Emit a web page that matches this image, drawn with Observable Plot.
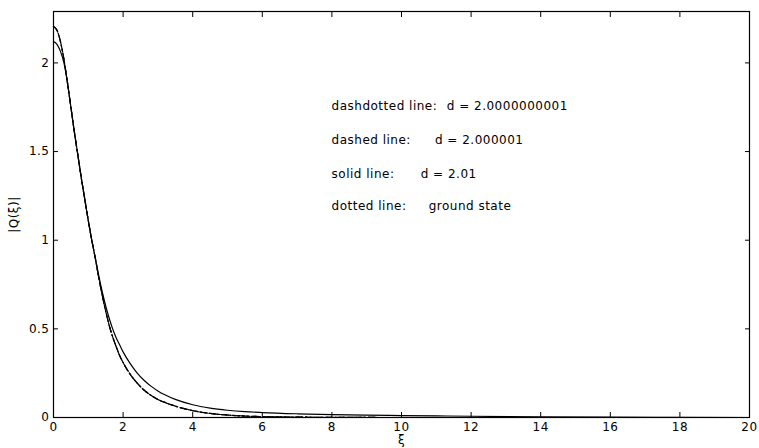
<!DOCTYPE html>
<html>
<head>
<meta charset="utf-8">
<script src="https://cdn.jsdelivr.net/npm/d3@7"></script>
<script src="https://cdn.jsdelivr.net/npm/@observablehq/plot@0.6"></script>
<style>
  body { margin: 0; background: #fff; }
  #chart svg { display: block; }
</style>
</head>
<body>
<div id="chart"></div>
<script>
// Ground-state profile |Q(xi)| (also followed, at this scale, by d = 2.000001 and d = 2.0000000001)
const xiGround = [0, 0.1, 0.2, 0.3, 0.4, 0.5, 0.6, 0.7, 0.8, 0.9, 1.0, 1.1, 1.2, 1.3, 1.4, 1.5, 1.6, 1.7, 1.8, 1.9, 2.0, 2.2, 2.4, 2.6, 2.8, 3.0, 3.2, 3.5, 4.0, 4.5, 5.0, 5.5, 6.0, 7.0, 8.0, 10, 12, 14, 16, 18, 20];
const qGround  = [2.205, 2.184, 2.12, 2.02, 1.89, 1.75, 1.61, 1.48, 1.35, 1.23, 1.11, 1.0, 0.90, 0.79, 0.69, 0.60, 0.52, 0.455, 0.40, 0.35, 0.31, 0.245, 0.195, 0.155, 0.125, 0.102, 0.085, 0.064, 0.039, 0.023, 0.014, 0.008, 0.005, 0.002, 0.001, 0, 0, 0, 0, 0, 0];
const qDashed = qGround;       // d = 2.000001
const qDashdotted = qGround;   // d = 2.0000000001

// Profile for d = 2.01 (solid line), with its slowly decaying tail
const xiSolid = [0, 0.1, 0.2, 0.3, 0.4, 0.5, 0.6, 0.7, 0.8, 0.9, 1.0, 1.1, 1.2, 1.3, 1.4, 1.5, 1.6, 1.7, 1.8, 1.9, 2.0, 2.2, 2.4, 2.6, 2.8, 3.0, 3.2, 3.5, 4.0, 4.5, 5.0, 5.5, 6.0, 7.0, 8.0, 9, 10, 11, 12, 14, 16, 18, 20];
const qSolid  = [2.12, 2.105, 2.065, 2.0, 1.89, 1.75, 1.61, 1.48, 1.35, 1.23, 1.11, 1.0, 0.90, 0.80, 0.71, 0.63, 0.56, 0.50, 0.45, 0.41, 0.37, 0.305, 0.252, 0.21, 0.177, 0.15, 0.128, 0.102, 0.072, 0.053, 0.041, 0.033, 0.028, 0.021, 0.016, 0.013, 0.011, 0.009, 0.007, 0.004, 0.002, 0.001, 0];

const xTicks = [0, 2, 4, 6, 8, 10, 12, 14, 16, 18, 20];
const yTicks = [0, 0.5, 1, 1.5, 2];

const keyNames  = ["dashdotted line:", "dashed line:", "solid line:", "dotted line:"];
const keyValues = ["d = 2.0000000001", "d = 2.000001", "d = 2.01", "ground state"];

const rows = (xs, ys) => xs.map((x, i) => ({xi: x, q: ys[i]}));

// key layout in data units (xi, |Q|)
const keyRowY   = [1.754, 1.567, 1.37, 1.19];
const keyNameX  = 7.99;
const keyValueX = [11.3, 10.96, 10.55, 10.78];

const lineStyle = {x: "xi", y: "q", stroke: "#000", strokeWidth: 1.2, curve: "monotone-x"};

const chart = Plot.plot({
  width: 759,
  height: 448,
  marginLeft: 53,
  marginRight: 10,
  marginTop: 11,
  marginBottom: 31,
  style: {fontFamily: "'DejaVu Sans', sans-serif", fontSize: "12px", color: "#000", background: "#fff"},
  x: {domain: [0, 20]},
  y: {domain: [0, 2.29]},
  marks: [
    Plot.frame({stroke: "#000", strokeWidth: 1.2}),
    // inward ticks on all four sides
    Plot.axisX({ticks: xTicks, tickSize: -5, tickFormat: () => "", label: null}),
    Plot.axisX({anchor: "top", ticks: xTicks, tickSize: -5, tickFormat: () => "", label: null}),
    Plot.axisY({ticks: yTicks, tickSize: -5, tickFormat: () => "", label: null}),
    Plot.axisY({anchor: "right", ticks: yTicks, tickSize: -5, tickFormat: () => "", label: null}),
    // tick labels and axis titles
    Plot.axisX({ticks: xTicks, tickSize: 0, tickPadding: 5, tickFormat: d => String(d), fontSize: 12,
      label: "ξ", labelAnchor: "center", labelArrow: "none", labelOffset: 26}),
    Plot.axisY({ticks: yTicks, tickSize: 0, tickPadding: 4, tickFormat: d => String(d), fontSize: 12,
      label: "|Q(ξ)|", labelAnchor: "center", labelArrow: "none", labelOffset: 44}),
    // curves
    Plot.line(rows(xiGround, qGround), {...lineStyle, strokeDasharray: "1.2,3"}),
    Plot.line(rows(xiGround, qDashdotted), {...lineStyle, strokeDasharray: "7,3,1.5,3"}),
    Plot.line(rows(xiGround, qDashed), {...lineStyle, strokeDasharray: "7,3.5"}),
    Plot.line(rows(xiSolid, qSolid), lineStyle),
    // key text
    Plot.text(keyNames, {x: () => keyNameX, y: (d, i) => keyRowY[i], text: d => d, textAnchor: "start",
      fill: "#000", fontSize: 12}),
    Plot.text(keyValues, {x: (d, i) => keyValueX[i], y: (d, i) => keyRowY[i], text: d => d, textAnchor: "start",
      fill: "#000", fontSize: 12})
  ]
});

// slightly open lettering throughout
d3.select(chart).selectAll("text").style("letter-spacing", "0.5px");

document.getElementById("chart").appendChild(chart);
</script>
</body>
</html>
